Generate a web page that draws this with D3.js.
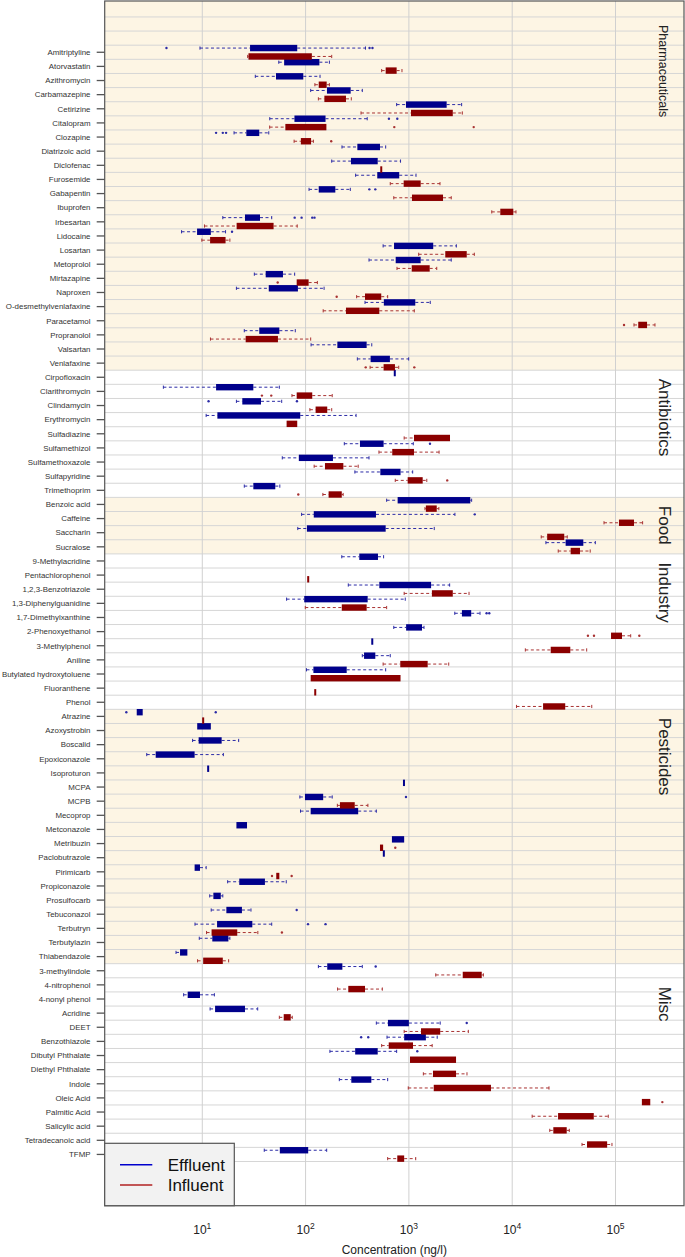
<!DOCTYPE html>
<html><head><meta charset="utf-8">
<script src="https://cdn.jsdelivr.net/npm/d3@7"></script>
<style>
body{margin:0;background:#fff}
svg{display:block}
text{font-family:"Liberation Sans",Arial,Helvetica,sans-serif}
</style>
</head><body>
<svg id="chart" width="685" height="1257"></svg>
<script>
// ---------------- DATA ----------------
const compounds = [
 "Amitriptyline","Atorvastatin","Azithromycin","Carbamazepine","Cetirizine","Citalopram","Clozapine","Diatrizoic acid","Diclofenac","Furosemide","Gabapentin","Ibuprofen","Irbesartan","Lidocaine","Losartan","Metoprolol","Mirtazapine","Naproxen","O-desmethylvenlafaxine","Paracetamol","Propranolol","Valsartan","Venlafaxine",
 "Cirpofloxacin","Clarithromycin","Clindamycin","Erythromycin","Sulfadiazine","Sulfamethizol","Sulfamethoxazole","Sulfapyridine","Trimethoprim",
 "Benzoic acid","Caffeine","Saccharin","Sucralose",
 "9-Methylacridine","Pentachlorophenol","1,2,3-Benzotriazole","1,3-Diphenylguanidine","1,7-Dimethylxanthine","2-Phenoxyethanol","3-Methylphenol","Aniline","Butylated hydroxytoluene","Fluoranthene","Phenol",
 "Atrazine","Azoxystrobin","Boscalid","Epoxiconazole","Isoproturon","MCPA","MCPB","Mecoprop","Metconazole","Metribuzin","Paclobutrazole","Pirimicarb","Propiconazole","Prosulfocarb","Tebuconazol","Terbutryn","Terbutylazin","Thiabendazole",
 "3-methylindole","4-nitrophenol","4-nonyl phenol","Acridine","DEET","Benzothiazole","Dibutyl Phthalate","Diethyl Phthalate","Indole","Oleic Acid","Palmitic Acid","Salicylic acid","Tetradecanoic acid","TFMP"
];
const groupNames = ["Pharmaceuticals","Antibiotics","Food","Industry","Pesticides","Misc"];
const groupSizes = [23, 9, 4, 11, 18, 14];
const groupShaded = [true, false, true, false, true, false];

// [lower whisker, Q1, Q3, upper whisker] in ng/l, null = not detected
const effluent = [
 [9.5,29,83,380],[55,62,136,170],[32.6,51.7,95,138],[112,161,273,354],[761,937,2320,3240],[45,78,156,395],[20.3,26.7,35.6,44],[225,317,525,596],[179,275,499,830],[305,494,806,1172],[108,134,194,271],null,[15.8,25.9,36.2,47],[6.3,8.9,12.1,16.8],[563,718,1720,2880],[411,745,1300,2570],[31.9,41.1,60.4,78.4],[21.4,44,84.3,151],[376,572,1153,1610],null,[25.5,35.6,55.7,79.5],[113,203,390,437],[317,426,655,995],
 [730,730,730,730],[4.2,13.6,31.2,55.7],[21.4,24.4,37,58.7],[10.9,14,88.8,308],null,[237,336,569,1103],[59.5,86,184,411],[300,529,830,1088],[25.5,31.2,50.9,56.3],
 [609,778,3930,4050],[91.5,120,480,2790],[84,103,596,1760],[21200,32900,48800,63800],
 [224,331,502,569],null,[259,517,1640,2480],[65.5,97,399,922],[2780,3260,4010,4880],[714,940,1340,1400],[442,442,442,442],[354,368,473,660],[102,119,250,596],null,null,
 [2.32,2.32,2.65,2.65],[8.93,8.93,12.1,12.1],[8.06,9.22,15.4,22.5],[2.9,3.54,8.43,16],[11.4,11.4,11.4,11.4],[896,896,896,896],[88,98.6,148,181],[89.3,112,323,484],[21.4,21.4,27.1,27.1],[685,685,900,900],[572,572,572,572],[8.43,8.43,9.5,10.9],[17.6,22.8,40.4,65],[11.8,12.8,15.1,15.8],[12.2,17.1,24.2,29.6],[8.5,13.9,30.5,47],[9.35,12.5,17.9,18.5],[5.57,6.09,7.17,7.17],
 [133,162,227,354],null,[6.6,7.22,9.5,13.1],[11.9,13.3,25.9,34.4],[484,627,1000,2010],[614,900,1460,1880],[172,302,499,761],null,[212,277,433,623],null,null,null,null,[39.8,56.3,106,160]
];
const effluentOutliers = [
 [4.5,416,444],[],[],[],[],[641,772],[13.6,15.8,17],[],[],[],[414,473],[],[78.4,91.5,116,122],[19.4],[],[],[],[],[],[],[],[],[],
 [],[],[11.5,82.5],[],[],[1600],[],[],[],
 [],[4340],[],[],
 [],[],[],[],[5650,6000],[],[],[],[],[],[],
 [1.84,13.5],[],[],[],[],[],[937],[],[],[],[],[],[],[],[82],[105.5,156],[],[],
 [477],[],[],[],[3630],[345,404],[1206],[],[],[],[],[],[],[]
];
const influent = [
 [27.5,28,115,179],[545,596,761,857],[123,134,160,170],[133,152,246,277],[344,1048,2660,3290],[44.9,63.7,159,159],[77.4,90,113,119],null,[540,540,540,540],[660,890,1300,2000],[714,1071,2140,2570],[6340,7670,10250,10880],[10.5,21.5,49,83],[9.9,11.9,16.8,18.5],[1244,2250,3630,4300],[767,1065,1590,1860],[82,82,107,130],[312,376,540,623],[148,246,517,1128],[151000,166000,202000,241000],[12,26.3,54,112],null,[421,569,733,797],
 null,[73.8,82,116,181],[110,125,162,179],[65.5,65.5,83,83],[900,1120,2500,2500],[513,690,1120,1960],[121,154,232,323],[738,973,1360,1490],[147,167,224,231],
 [1430,1460,1860,1950],[77400,108000,151000,183000],[19100,21800,31900,34100],[27900,36800,45300,56900],
 null,[106,106,106,106],[900,1670,2660,3820],[99.3,224,390,609],null,[90500,90500,115600,140300],[13400,23600,36500,52600],[563,825,1520,2430],[112,112,830,830],[124,124,124,124],[11000,19900,32600,58900],
 [10.2,10.2,10.2,10.2],null,null,null,null,null,[203,215,299,401],null,null,[525,525,563,563],null,[52,52,55.7,55.7],null,null,null,[11,12.3,21.8,34.5],null,[9.0,10.2,15.8,18],
 [1820,3320,5070,5260],[204,259,376,553],null,[55.7,61.4,71.8,74.3],[900,1310,2010,3760],[545,638,1096,1680],[1025,1025,2860,2860],[1380,1710,2860,3650],[986,1740,6230,22700],[180000,180000,217000,217000],[15600,27800,61600,85100],[23100,25000,33700,35700],[47400,53000,83000,92400],[623,772,900,1164]
];
const influentOutliers = [
 [],[],[],[],[],[722,4240],[177],[],[],[],[],[],[],[],[],[],[53.7],[200],[],[120900],[],[],[382,1128],
 [],[37.8,46.5],[],[],[],[],[],[2350],[85],
 [],[],[],[],
 [],[],[],[],[],[54100,61900,170000],[],[],[],[],[],
 [],[],[],[],[],[],[],[],[],[738],[],[47.3,73.3],[],[],[],[59],[],[],
 [],[],[],[],[],[],[],[],[],[284000],[],[],[],[]
];
const xTickExponents = [1, 2, 3, 4, 5];
const seriesNames = ["Effluent", "Influent"];
const seriesColors = {box: ["#00008b", "#8b0000"], whisker: ["#2b2ba6", "#a83232"], legend: ["#0000cd", "#b22222"]};

// ---------------- LAYOUT ----------------
const svg = d3.select("#chart");
const P = {left: 104.7, right: 684, top: 1, bottom: 1205.7};
const x = d3.scaleLog().domain([1.136, 460300]).range([P.left, P.right]);
const y = d3.scaleBand().domain(compounds).range([45.2, 1161.5]).padding(0);
const bw = y.bandwidth();
const offsets = [-4.2, 4.2];
const boxH = 6.4;

// group backgrounds
let start = 0;
const groupInfo = groupSizes.map((n, g) => {
  const first = compounds[start], last = compounds[start + n - 1];
  const info = {g, top: y(first), bottom: y(last) + bw};
  start += n;
  return info;
});
groupInfo.forEach((gi, k) => {
  if (!groupShaded[k]) return;
  const t = k === 0 ? P.top : gi.top;
  const b = k === groupInfo.length - 1 ? P.bottom : gi.bottom;
  svg.append("rect").attr("x", P.left).attr("y", t).attr("width", P.right - P.left).attr("height", b - t).attr("fill", "#fdf5e4");
});

// horizontal grid lines
const gridG = svg.append("g").attr("stroke", "#d6d6d6").attr("stroke-width", 1);
for (let k = -2; k <= compounds.length; k++) {
  const yy = 45.2 + k * bw;
  gridG.append("line").attr("x1", P.left).attr("x2", P.right).attr("y1", yy).attr("y2", yy);
}
// vertical grid lines
xTickExponents.forEach(e => {
  const xx = x(Math.pow(10, e));
  svg.append("line").attr("x1", xx).attr("x2", xx).attr("y1", P.top).attr("y2", P.bottom)
    .attr("stroke", "#d0d0d0").attr("stroke-width", 1);
});

// box plots
function drawSeries(stats, outliers, s) {
  const g = svg.append("g");
  stats.forEach((st, i) => {
    if (!st) return;
    const cy = y(compounds[i]) + bw / 2 + offsets[s];
    const [lo, q1, q3, hi] = st;
    const wc = seriesColors.whisker[s];
    if (lo < q1) {
      g.append("line").attr("x1", x(lo)).attr("x2", x(q1)).attr("y1", cy).attr("y2", cy)
        .attr("stroke", wc).attr("stroke-width", 1).attr("stroke-dasharray", "3,2.5");
      g.append("line").attr("x1", x(lo)).attr("x2", x(lo)).attr("y1", cy - 1.6).attr("y2", cy + 1.6)
        .attr("stroke", wc).attr("stroke-width", 1);
    }
    if (hi > q3) {
      g.append("line").attr("x1", x(q3)).attr("x2", x(hi)).attr("y1", cy).attr("y2", cy)
        .attr("stroke", wc).attr("stroke-width", 1).attr("stroke-dasharray", "3,2.5");
      g.append("line").attr("x1", x(hi)).attr("x2", x(hi)).attr("y1", cy - 1.6).attr("y2", cy + 1.6)
        .attr("stroke", wc).attr("stroke-width", 1);
    }
    let x0 = x(q1), x1 = x(q3);
    if (x1 - x0 < 2) { const m = (x0 + x1) / 2; x0 = m - 1; x1 = m + 1; }
    g.append("rect").attr("x", x0).attr("y", cy - boxH / 2).attr("width", x1 - x0).attr("height", boxH)
      .attr("fill", seriesColors.box[s]);
    (outliers[i] || []).forEach(v => {
      g.append("circle").attr("cx", x(v)).attr("cy", cy).attr("r", 1.2).attr("fill", wc);
    });
  });
}
drawSeries(effluent, effluentOutliers, 0);
drawSeries(influent, influentOutliers, 1);

// frame
svg.append("rect").attr("x", P.left).attr("y", P.top).attr("width", P.right - P.left).attr("height", P.bottom - P.top)
  .attr("fill", "none").attr("stroke", "#555").attr("stroke-width", 1.2);

// y axis ticks and labels
const yAxis = svg.append("g");
compounds.forEach(c => {
  const cy = y(c) + bw / 2;
  yAxis.append("line").attr("x1", 96.7).attr("x2", P.left).attr("y1", cy).attr("y2", cy).attr("stroke", "#555").attr("stroke-width", 1.3);
  yAxis.append("text").attr("x", 90.5).attr("y", cy).attr("dy", "0.35em").attr("text-anchor", "end")
    .attr("font-size", 7.9).attr("fill", "#333").text(c);
});

// group labels
groupInfo.forEach((gi, k) => {
  const ty = k === 0 ? gi.top - 2 * bw + 8 : (k === groupInfo.length - 1 ? gi.top + 23 : gi.top + 8.5);
  svg.append("text").attr("transform", `translate(659,${ty}) rotate(90)`)
    .attr("font-size", k === 0 ? 12.5 : 17).attr("fill", "#222").text(groupNames[k]);
});

// x axis tick labels
xTickExponents.forEach(e => {
  const t = svg.append("text").attr("x", x(Math.pow(10, e))).attr("y", 1233.5).attr("text-anchor", "middle")
    .attr("font-size", 12).attr("fill", "#222");
  t.append("tspan").text("10");
  t.append("tspan").attr("dy", -5).attr("font-size", 8.5).text(e);
});
svg.append("text").attr("x", (P.left + P.right) / 2).attr("y", 1253.5).attr("text-anchor", "middle")
  .attr("font-size", 12).attr("fill", "#222").text("Concentration (ng/l)");

// legend
const lg = svg.append("g");
lg.append("rect").attr("x", P.left).attr("y", 1143.3).attr("width", 129.6).attr("height", P.bottom - 1143.3)
  .attr("fill", "#f2f2f2").attr("stroke", "#555").attr("stroke-width", 1.2);
seriesNames.forEach((n, s) => {
  const ly = 1164.7 + s * 20.3;
  lg.append("line").attr("x1", 120).attr("x2", 152.3).attr("y1", ly).attr("y2", ly)
    .attr("stroke", seriesColors.legend[s]).attr("stroke-width", 1.5);
  lg.append("text").attr("x", 167.7).attr("y", ly).attr("dy", "0.36em").attr("font-size", 17).attr("fill", "#111").text(n);
});
</script>
</body></html>
